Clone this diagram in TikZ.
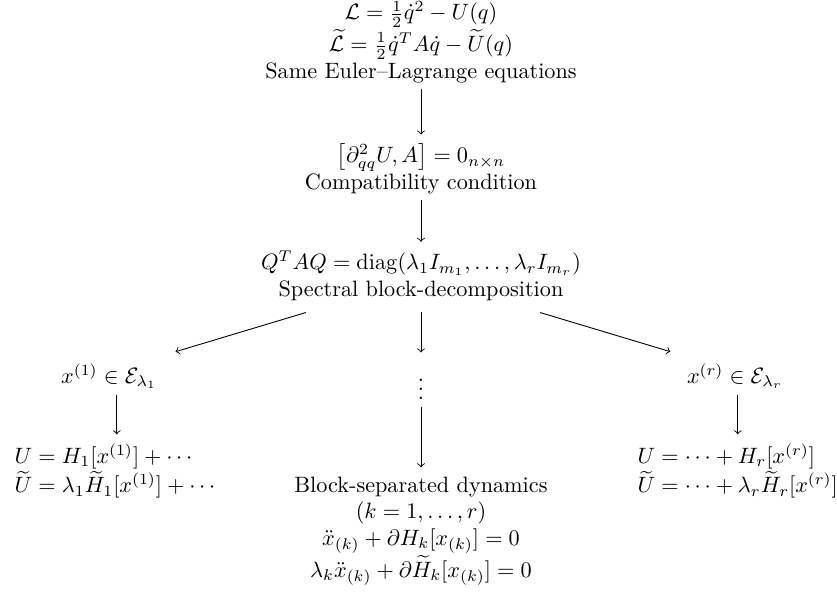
\documentclass[tikz,border=0pt]{standalone}
\usepackage{amsmath,amssymb}
\begin{document}
\begin{tikzpicture}[x=0.45pt,y=-0.45pt,
  lbl/.style={align=center,inner sep=1pt},
  arr/.style={->,thin,shorten <=1.5pt,shorten >=3pt}]
\useasboundingbox (0,0) rectangle (837,592);
\node[lbl] (top) at (421,42) {$\mathcal{L}=\frac{1}{2}\dot q^{2}-U(q)$\\ $\widetilde{\mathcal{L}}=\frac{1}{2}\dot q^{T}A\dot q-\widetilde U(q)$\\ Same Euler--Lagrange equations};
\node[lbl] (comp) at (421,169) {$\bigl[\partial^{2}_{qq}U,A\bigr]=0_{n\times n}$\\ Compatibility condition};
\node[lbl] (spec) at (421,276) {$Q^{T}AQ=\operatorname{diag}(\lambda_1 I_{m_1},\dots,\lambda_r I_{m_r})$\\ Spectral block-decomposition};
\node[lbl] (x1) at (109,376) {$x^{(1)}\in\mathcal{E}_{\lambda_1}$};
\node[lbl] (xr) at (735,376) {$x^{(r)}\in\mathcal{E}_{\lambda_r}$};
\node[lbl] (dots) at (421,383) {$\vdots$};
\node[lbl,align=left,anchor=west] (eq1) at (12,471) {$U=H_1[x^{(1)}]+\cdots$\\ $\widetilde U=\lambda_1\widetilde H_1[x^{(1)}]+\cdots$};
\node[lbl,align=left,anchor=west] (eqr) at (635,471) {$U=\cdots+H_r[x^{(r)}]$\\ $\widetilde U=\cdots+\lambda_r\widetilde H_r[x^{(r)}]$};
\node[lbl,anchor=north] (blk) at (421,474) {Block-separated dynamics\\ $(k=1,\dots,r)$\\ $\ddot x_{(k)}+\partial H_k[x_{(k)}]=0$\\ $\lambda_k\ddot x_{(k)}+\partial\widetilde H_k[x_{(k)}]=0$};
\draw[arr] (top) -- (comp);
\draw[arr] (comp) -- (spec);
\draw[->,thin] ([shift={(-115,9)}]spec.south) -- ([shift={(16,-9)}]x1.north east);
\draw[->,thin] ([shift={(119,9)}]spec.south) -- ([shift={(-14,-9)}]xr.north west);
\draw[arr,shorten <=4pt,shorten >=5pt] (spec) -- (dots);
\draw[arr,shorten <=2pt] (dots) -- (blk);
\draw[arr] (x1.south -| eq1.north) -- (eq1.north);
\draw[arr] (xr.south -| eqr.north) -- (eqr.north);
\end{tikzpicture}
\end{document}
